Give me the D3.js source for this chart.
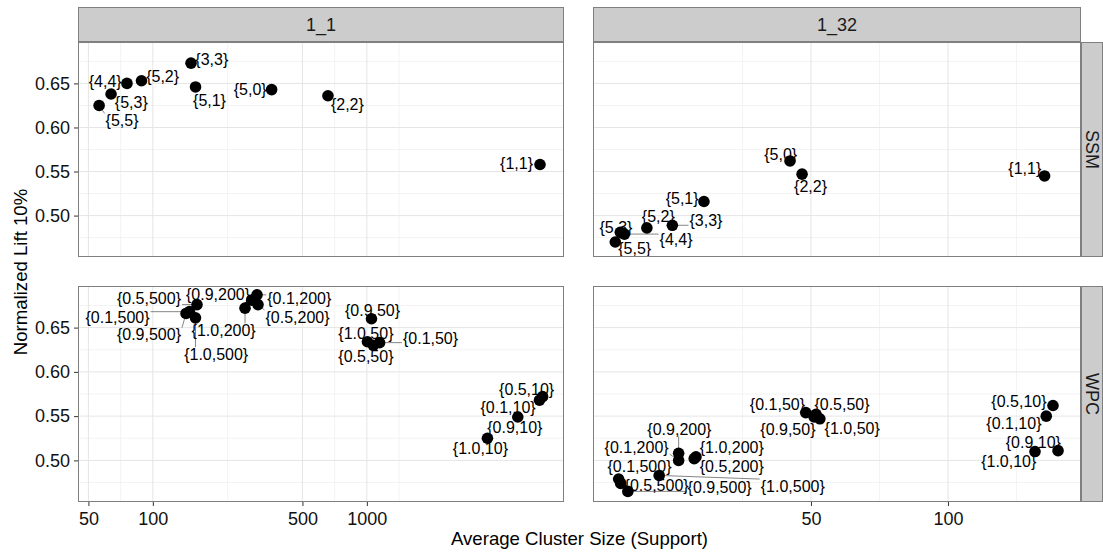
<!DOCTYPE html>
<html>
<head>
<meta charset="utf-8">
<script src="https://cdnjs.cloudflare.com/ajax/libs/d3/7.8.5/d3.min.js"></script>
<style>
  body { margin: 0; background: #fff; }
  svg { display: block; font-family: "Liberation Sans", Arial, Helvetica, sans-serif; }
  .grid-major { stroke: #e5e5e5; stroke-width: 1; }
  .grid-minor { stroke: #f3f3f3; stroke-width: 1; }
  .tick-label { font-size: 18px; fill: #111; }
  .strip-text { font-size: 18px; fill: #1a1a1a; }
  .axis-title { font-size: 18.6px; fill: #000; }
  .pt-label { font-size: 16px; fill: #000; }
</style>
</head>
<body>
<svg id="chart" width="1103" height="554"></svg>
<script>
// facets
const colNames = ["1_1", "1_32"];
const rowNames = ["SSM", "WPC"];

// x limits per column (log scale), shared y limits
const xDomains = [[44.7, 8340], [16.6, 196]];
const yDomain = [0.453, 0.697];
const xTicks = [[50, 100, 500, 1000], [50, 100]];
const yTicks = [0.50, 0.55, 0.60, 0.65];

// SSM
const ssmLabels = ["{5,0}", "{5,1}", "{5,2}", "{5,3}", "{5,5}", "{4,4}", "{3,3}", "{2,2}", "{1,1}"];
const ssmX11 = [359, 158.3, 88.5, 63.8, 56.1, 75.7, 150.8, 658, 6442];
const ssmY11 = [0.643, 0.646, 0.653, 0.638, 0.625, 0.650, 0.673, 0.636, 0.558];
const ssmTextX11 = [285, 184, 111.1, 79.3, 71.8, 59.9, 188.6, 811, 5007];
const ssmTextY11 = [0.643, 0.631, 0.658, 0.628, 0.608, 0.652, 0.677, 0.626, 0.559];
const ssmX132 = [44.97, 29.1, 21.8, 19.06, 18.58, 19.46, 24.8, 47.8, 163.0];
const ssmY132 = [0.562, 0.516, 0.486, 0.481, 0.470, 0.479, 0.489, 0.547, 0.545];
const ssmTextX132 = [42.9, 26.06, 23.1, 18.64, 20.5, 25.27, 29.4, 49.9, 147.5];
const ssmTextY132 = [0.569, 0.520, 0.499, 0.487, 0.463, 0.473, 0.494, 0.533, 0.553];

// WPC
const wpcLabels = ["{0.1,10}", "{0.5,10}", "{0.9,10}", "{1.0,10}",
                   "{0.1,50}", "{0.5,50}", "{0.9,50}", "{1.0,50}",
                   "{0.1,200}", "{0.5,200}", "{0.9,200}", "{1.0,200}",
                   "{0.1,500}", "{0.5,500}", "{0.9,500}", "{1.0,500}"];
const wpcX11 = [6407, 6624, 5073, 3659, 1147, 1072, 1051, 1006, 306.7, 310, 289.7, 269.6, 148.4, 160.8, 142.9, 158.2];
const wpcY11 = [0.568, 0.572, 0.549, 0.525, 0.633, 0.630, 0.660, 0.634, 0.687, 0.676, 0.681, 0.672, 0.668, 0.676, 0.666, 0.661];
const wpcTextX11 = [4570, 5579, 4913, 3393, 1984, 990, 1063, 990, 483.4, 474.3, 201.6, 214.2, 68.4, 95.9, 95.9, 197.7];
const wpcTextY11 = [0.560, 0.580, 0.537, 0.513, 0.638, 0.617, 0.669, 0.643, 0.683, 0.662, 0.687, 0.647, 0.662, 0.683, 0.642, 0.620];
const wpcX132 = [164.4, 170.1, 174.5, 155.3, 48.7, 51.3, 50.8, 52.3, 25.6, 27.7, 25.6, 27.95, 18.9, 19.1, 19.8, 23.2];
const wpcY132 = [0.550, 0.562, 0.511, 0.510, 0.554, 0.552, 0.549, 0.547, 0.500, 0.502, 0.508, 0.504, 0.479, 0.474, 0.465, 0.483];
const wpcTextX132 = [139.6, 143.2, 154.0, 136.0, 42.2, 58.5, 44.5, 61.6, 20.7, 33.5, 25.7, 33.5, 21.0, 22.9, 31.5, 45.6];
const wpcTextY132 = [0.542, 0.567, 0.520, 0.499, 0.563, 0.563, 0.535, 0.536, 0.515, 0.493, 0.535, 0.515, 0.493, 0.472, 0.469, 0.471];

const facets = [
  { row: 0, col: 0, labels: ssmLabels, x: ssmX11, y: ssmY11, tx: ssmTextX11, ty: ssmTextY11 },
  { row: 0, col: 1, labels: ssmLabels, x: ssmX132, y: ssmY132, tx: ssmTextX132, ty: ssmTextY132 },
  { row: 1, col: 0, labels: wpcLabels, x: wpcX11, y: wpcY11, tx: wpcTextX11, ty: wpcTextY11 },
  { row: 1, col: 1, labels: wpcLabels, x: wpcX132, y: wpcY132, tx: wpcTextX132, ty: wpcTextY132 }
];

// layout
const colLeft = [78, 593], colWidth = [486, 488];
const rowTop = [42, 286], rowHeight = [215, 216];
const stripTop = 7, stripH = 34, rightStripW = 21;
const pointR = 5.8;

const svg = d3.select('#chart');

const xScales = colNames.map((c, i) => d3.scaleLog()
    .domain(xDomains[i])
    .range([colLeft[i], colLeft[i] + colWidth[i]]));
const yScales = rowNames.map((r, i) => d3.scaleLinear()
    .domain(yDomain)
    .range([rowTop[i] + rowHeight[i], rowTop[i]]));

// minor breaks like ggplot: midpoints (in transformed space) between majors, extended one step
function minorLog(ticks) {
  const l = ticks.map(Math.log10);
  const step = l[1] - l[0];
  const ext = [l[0] - step, ...l, l[l.length - 1] + step];
  const out = [];
  for (let i = 0; i < ext.length - 1; i++) out.push(Math.pow(10, (ext[i] + ext[i + 1]) / 2));
  return out;
}
function minorLin(ticks) {
  const step = ticks[1] - ticks[0];
  const ext = [ticks[0] - step, ...ticks, ticks[ticks.length - 1] + step];
  const out = [];
  for (let i = 0; i < ext.length - 1; i++) out.push((ext[i] + ext[i + 1]) / 2);
  return out;
}

facets.forEach(f => {
  const xs = xScales[f.col], ys = yScales[f.row];
  const x0 = colLeft[f.col], x1 = x0 + colWidth[f.col];
  const y0 = rowTop[f.row], y1 = y0 + rowHeight[f.row];
  const g = svg.append('g');

  g.append('rect')
   .attr('x', x0).attr('y', y0)
   .attr('width', colWidth[f.col]).attr('height', rowHeight[f.row])
   .attr('fill', '#fff');

  const xMinor = minorLog(xTicks[f.col]).filter(v => v > xDomains[f.col][0] && v < xDomains[f.col][1]);
  const yMinor = minorLin(yTicks).filter(v => v > yDomain[0] && v < yDomain[1]);

  g.selectAll('.vminor').data(xMinor).enter().append('line')
   .attr('class', 'grid-minor')
   .attr('x1', d => xs(d)).attr('x2', d => xs(d))
   .attr('y1', y0).attr('y2', y1);
  g.selectAll('.hminor').data(yMinor).enter().append('line')
   .attr('class', 'grid-minor')
   .attr('x1', x0).attr('x2', x1)
   .attr('y1', d => ys(d)).attr('y2', d => ys(d));
  g.selectAll('.vmajor').data(xTicks[f.col]).enter().append('line')
   .attr('class', 'grid-major')
   .attr('x1', d => xs(d)).attr('x2', d => xs(d))
   .attr('y1', y0).attr('y2', y1);
  g.selectAll('.hmajor').data(yTicks).enter().append('line')
   .attr('class', 'grid-major')
   .attr('x1', x0).attr('x2', x1)
   .attr('y1', d => ys(d)).attr('y2', d => ys(d));

  const pts = f.labels.map((l, i) => ({
    label: l, px: xs(f.x[i]), py: ys(f.y[i]), tx: xs(f.tx[i]), ty: ys(f.ty[i])
  }));

  const segG = g.append('g');
  const ptG = g.append('g');
  const txtG = g.append('g');

  ptG.selectAll('circle').data(pts).enter().append('circle')
     .attr('cx', d => d.px).attr('cy', d => d.py)
     .attr('r', pointR).attr('fill', '#000');

  txtG.selectAll('text').data(pts).enter().append('text')
      .attr('class', 'pt-label')
      .attr('x', d => d.tx).attr('y', d => d.ty)
      .attr('dy', '0.35em')
      .attr('text-anchor', 'middle')
      .text(d => d.label)
      .each(function (d) { d.hw = this.getComputedTextLength() / 2 + 1; d.hh = 7; });

  // leader segments from point to nearest edge of its label box
  pts.forEach(d => {
    const ex = Math.max(d.tx - d.hw, Math.min(d.px, d.tx + d.hw));
    const ey = Math.max(d.ty - d.hh, Math.min(d.py, d.ty + d.hh));
    const dist = Math.hypot(ex - d.px, ey - d.py);
    if (dist > pointR + 2) {
      segG.append('line')
          .attr('x1', d.px).attr('y1', d.py)
          .attr('x2', ex).attr('y2', ey)
          .attr('stroke', '#333').attr('stroke-width', 0.6);
    }
  });

  g.append('rect')
   .attr('x', x0 + 0.5).attr('y', y0 + 0.5)
   .attr('width', colWidth[f.col] - 1).attr('height', rowHeight[f.row] - 1)
   .attr('fill', 'none').attr('stroke', '#7f7f7f').attr('stroke-width', 1);
});

// top strips
colNames.forEach((c, i) => {
  svg.append('rect')
     .attr('x', colLeft[i] + 0.5).attr('y', stripTop + 0.5)
     .attr('width', colWidth[i] - 1).attr('height', stripH)
     .attr('fill', '#cccccc').attr('stroke', '#7f7f7f');
  svg.append('text')
     .attr('class', 'strip-text')
     .attr('x', colLeft[i] + colWidth[i] / 2)
     .attr('y', stripTop + stripH / 2 + 1)
     .attr('dy', '0.35em')
     .attr('text-anchor', 'middle')
     .text(c);
});

// right strips
const stripX = colLeft[1] + colWidth[1];
rowNames.forEach((r, i) => {
  svg.append('rect')
     .attr('x', stripX + 0.5).attr('y', rowTop[i] + 0.5)
     .attr('width', rightStripW).attr('height', rowHeight[i] - 1)
     .attr('fill', '#cccccc').attr('stroke', '#7f7f7f');
  const cx = stripX + rightStripW / 2 + 1, cy = rowTop[i] + rowHeight[i] / 2;
  svg.append('text')
     .attr('class', 'strip-text')
     .attr('transform', `translate(${cx}, ${cy}) rotate(90)`)
     .attr('dy', '0.35em')
     .attr('text-anchor', 'middle')
     .text(r);
});

// axes
function styleAxis(sel) {
  sel.select('.domain').remove();
  sel.selectAll('.tick line').attr('stroke', '#333');
  sel.selectAll('.tick text').attr('class', 'tick-label').attr('fill', null)
     .style('font-family', null).style('font-size', null);
  sel.attr('font-size', null).attr('font-family', null);
}

rowNames.forEach((r, i) => {
  svg.append('g')
     .attr('transform', `translate(${colLeft[0]}, 0)`)
     .call(d3.axisLeft(yScales[i]).tickValues(yTicks).tickSize(4).tickPadding(4)
             .tickFormat(d3.format('.2f')))
     .call(styleAxis);
});

colNames.forEach((c, i) => {
  svg.append('g')
     .attr('transform', `translate(0, ${rowTop[1] + rowHeight[1]})`)
     .call(d3.axisBottom(xScales[i]).tickValues(xTicks[i]).tickSize(4).tickPadding(6)
             .tickFormat(d3.format('d')))
     .call(styleAxis);
});

// titles
svg.append('text')
   .attr('class', 'axis-title')
   .attr('x', (colLeft[0] + stripX) / 2)
   .attr('y', 545)
   .attr('text-anchor', 'middle')
   .text('Average Cluster Size (Support)');

svg.append('text')
   .attr('class', 'axis-title')
   .attr('transform', `translate(27, ${(rowTop[0] + rowTop[1] + rowHeight[1]) / 2}) rotate(-90)`)
   .attr('text-anchor', 'middle')
   .text('Normalized Lift 10%');
</script>
</body>
</html>
